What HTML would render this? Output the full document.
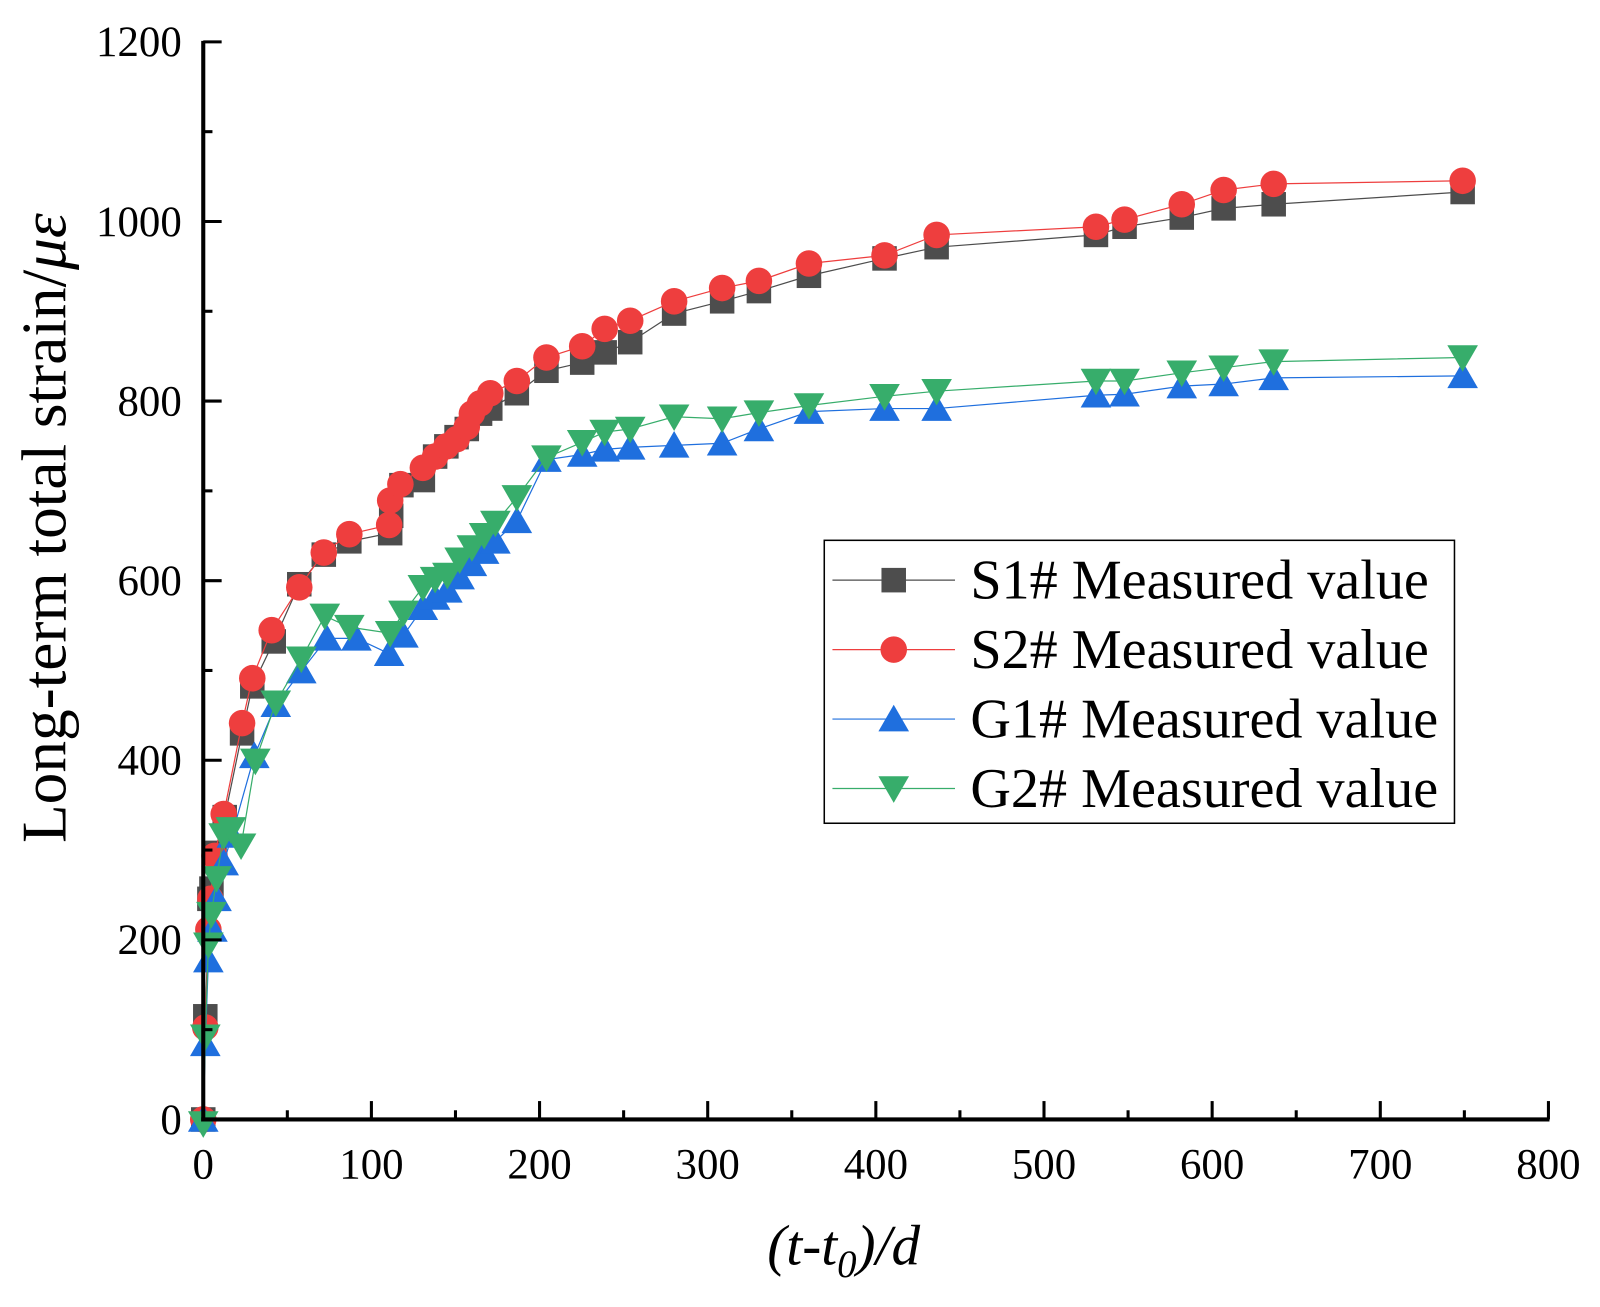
<!DOCTYPE html>
<html><head><meta charset="utf-8"><style>body{margin:0;background:#fff}</style></head><body>
<svg width="1600" height="1302" xmlns="http://www.w3.org/2000/svg" font-family="Liberation Serif, serif">
<rect width="1600" height="1302" fill="#fff"/>
<defs>
<rect id="sq" x="-12" y="-12" width="24" height="24" fill="#4d4d4d"/>
<circle id="ci" r="13" fill="#ee3e3e"/>
<polygon id="tu" points="0,-14 15,12 -15,12" fill="#1f6fde"/>
<polygon id="td" points="0,14 15,-12 -15,-12" fill="#37ad6b"/>
</defs>
<g transform="scale(1.0214)">
<g id="plot"></g>
<g stroke="#000" stroke-width="4" fill="none">
<line x1="199" y1="40" x2="199" y2="1098"/>
<line x1="197" y1="1096" x2="1517" y2="1096"/>
</g>
<g id="ticks" stroke="#000" stroke-width="3"></g>
<g font-size="42" text-anchor="end" id="yl"></g>
<g font-size="42" text-anchor="middle" id="xl"></g>
<text transform="translate(64,517) rotate(-90)" font-size="62" text-anchor="middle">Long-term total strain/<tspan font-style="italic">με</tspan></text>
<text x="826" y="1238" font-size="56" font-style="italic" text-anchor="middle">(t-t<tspan font-size="38" dy="12">0</tspan><tspan dy="-12">)/d</tspan></text>
<rect x="807" y="529" width="617" height="277" fill="#fff" stroke="#000" stroke-width="1.5"/>
<g font-size="55">
<line x1="815" y1="568" x2="935" y2="568" stroke="#4d4d4d" stroke-width="1.2"/><use href="#sq" x="875" y="568"/><text x="950" y="586">S1# Measured value</text>
<line x1="815" y1="636" x2="935" y2="636" stroke="#ee3e3e" stroke-width="1.2"/><use href="#ci" x="875" y="636"/><text x="950" y="654">S2# Measured value</text>
<line x1="815" y1="704" x2="935" y2="704" stroke="#1f6fde" stroke-width="1.2"/><use href="#tu" x="875" y="704"/><text x="950" y="722">G1# Measured value</text>
<line x1="815" y1="772" x2="935" y2="772" stroke="#37ad6b" stroke-width="1.2"/><use href="#td" x="875" y="772"/><text x="950" y="790">G2# Measured value</text>
</g>
</g>
<script>
const NS="http://www.w3.org/2000/svg";
function el(p,t,a,txt){const e=document.createElementNS(NS,t);for(const k in a)e.setAttribute(k,a[k]);if(txt!==undefined)e.textContent=txt;p.appendChild(e);return e;}
const tk=document.getElementById('ticks'),yl=document.getElementById('yl'),xl=document.getElementById('xl');
for(let i=0;i<=16;i++){const x=199+i*1317/16;const L=i%2?9:18;el(tk,'line',{x1:x,y1:1096,x2:x,y2:1096-L});if(i%2==0)el(xl,'text',{x:x,y:1154},String(i*50));}
for(let i=0;i<=12;i++){const y=1096-i*1055/12;const L=i%2?9:18;el(tk,'line',{x1:199,y1:y,x2:199+L,y2:y});if(i%2==0)el(yl,'text',{x:178,y:y+14},String(i*100));}
const S1=[[199,1096],[201,995],[205,880],[207,870],[210,835],[220,800],[237,718],[247,672],[268,628],[293,572],[317,543],[342,530],[382,522],[383,505],[393,475],[414,470],[426,447],[437,437],[447,428],[457,420],[470,405],[480,400],[506,385],[535,363],[570,355],[592,345],[617,335],[660,307],[707,295],[743,285],[792,270],[866,253],[917,242],[1073,230],[1101,222],[1157,213],[1198,204],[1247,200],[1432,188]];
const S2=[[199,1096],[201,1006],[204,910],[206,880],[210,838],[219,797],[237,708],[247,664],[266,617],[293,575],[317,541],[342,523],[381,514],[382,490],[392,474],[414,458],[426,447],[437,437],[447,430],[457,418],[462,405],[470,395],[480,385],[506,373],[535,350],[570,339],[592,322],[617,314],[660,295],[707,282],[743,275],[792,258],[866,250],[917,230],[1073,222],[1101,215],[1157,200],[1198,186],[1247,180],[1432,177]];
const G1=[[199,1096],[201,1022],[204,940],[208,910],[212,880],[219,845],[227,818],[249,740],[270,690],[295,657],[320,625],[349,625],[381,640],[395,622],[414,595],[426,585],[438,578],[450,565],[462,552],[474,540],[485,530],[506,510],[535,450],[570,445],[592,440],[617,438],[660,436],[707,434],[743,420],[792,403],[866,400],[917,400],[1073,387],[1101,386],[1157,378],[1198,376],[1247,370],[1432,368]];
const G2=[[199,1100],[201,1015],[204,925],[207,895],[212,860],[219,818],[226,812],[236,828],[250,745],[270,688],[295,645],[318,603],[342,614],[382,620],[395,600],[414,575],[426,567],[438,563],[450,548],[462,536],[474,524],[485,512],[506,487],[535,448],[570,433],[592,423],[617,420],[660,408],[707,410],[743,404],[792,397],[866,388],[917,383],[1073,373],[1101,373],[1157,365],[1198,360],[1247,354],[1432,350]];
const P=document.getElementById('plot');
[[S1,'#sq','#4d4d4d'],[S2,'#ci','#ee3e3e'],[G1,'#tu','#1f6fde'],[G2,'#td','#37ad6b']].forEach(([d,m,c])=>{
el(P,'polyline',{points:d.map(p=>p.join(',')).join(' '),fill:'none',stroke:c,'stroke-width':1.2});
d.forEach(p=>el(P,'use',{href:m,x:p[0],y:p[1]}));});
</script>
</svg>
</body></html>
